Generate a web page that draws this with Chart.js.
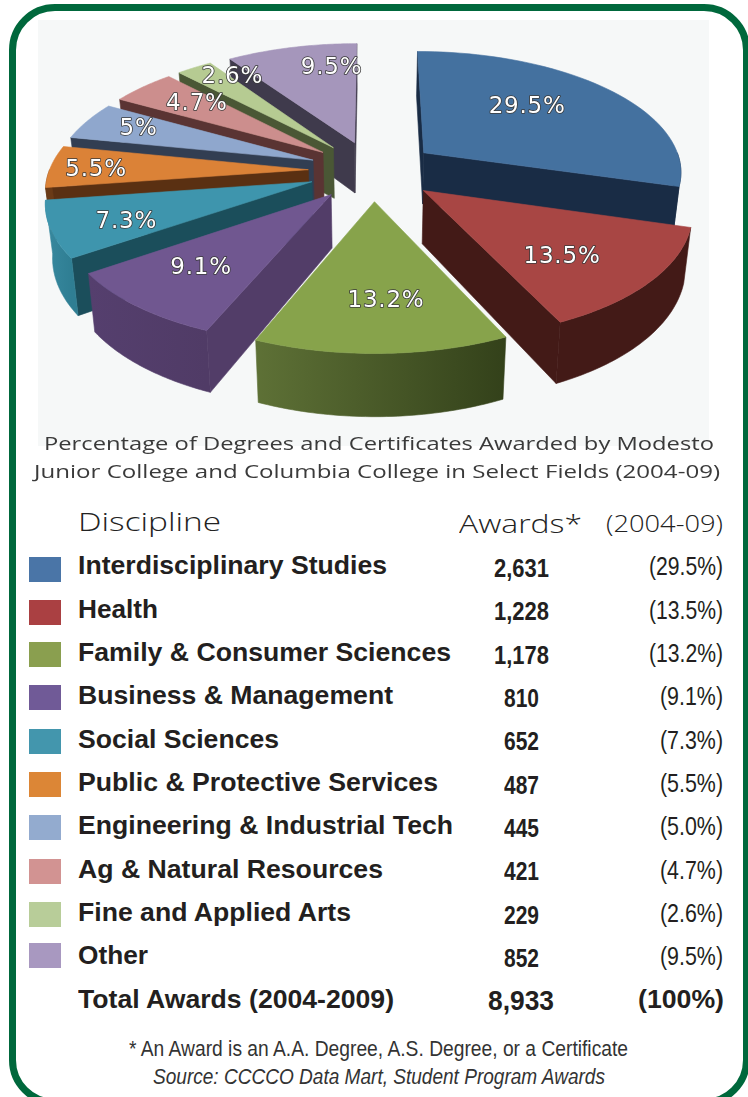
<!DOCTYPE html>
<html><head><meta charset="utf-8">
<script src="https://cdn.jsdelivr.net/npm/chart.js@4"></script>
<style>
html,body{margin:0;padding:0;background:#fff;width:748px;height:1097px;overflow:hidden}
#frame{position:absolute;left:9px;top:4px;width:741px;height:1102px;box-sizing:border-box;border:7px solid #00683c;border-radius:46px}
#panel{position:absolute;left:38px;top:20px;width:671px;height:426px;background:#f6f8f8}
canvas{position:absolute;left:0;top:0}
.t{position:absolute;white-space:pre;transform-origin:0 0;color:#231f20;font-family:"Liberation Sans",Arial,sans-serif}
.sw{position:absolute;width:32px;height:25px}
</style></head><body>
<div id="frame"></div><div id="panel"></div>
<canvas id="pie" width="748" height="450"></canvas>
<div id="table"></div>
<script>
// ---- data ----
const disciplines = ['Interdisciplinary Studies','Health','Family & Consumer Sciences','Business & Management','Social Sciences','Public & Protective Services','Engineering & Industrial Tech','Ag & Natural Resources','Fine and Applied Arts','Other'];
const awards = [2631,1228,1178,810,652,487,445,421,229,852];
const sharePct = [29.5,13.5,13.2,9.1,7.3,5.5,5.0,4.7,2.6,9.5];
const sliceLabels = ['29.5%','13.5%','13.2%','9.1%','7.3%','5.5%','5%','4.7%','2.6%','9.5%'];
const totalLabel = 'Total Awards (2004-2009)', totalAwards = '8,933', totalShare = '(100%)';
const titleLines = ['Percentage of Degrees and Certificates Awarded by Modesto','Junior College and Columbia College in Select Fields (2004-09)'];
const footnote = '* An Award is an A.A. Degree, A.S. Degree, or a Certificate';
const source = 'Source: CCCCO Data Mart, Student Program Awards';

// ---- styles ----
const topColors = ['#44719f','#a84644','#87a34b','#705790','#3e95ad','#db8237','#8fa7cd','#cc8e8d','#b6cb92','#a596bb'];
const cutColors = ['#192c45','#431a17','#4a5a26','#523d68','#1b4e5b','#5a3012','#323e52','#5a3433','#4a5735','#3f3a4c'];
const rimLeft  = ['#192c45','#431a17','#5e7136','#553f6e','#38899f','#6a3a16','#323e52','#5a3433','#4a5735','#3f3a4c'];
const rimRight = ['#192c45','#431a17','#33411a','#503b66','#2f7e93','#6a3a16','#323e52','#5a3433','#4a5735','#3f3a4c'];
const swatchColors = ['#4a75a7','#aa4042','#8a9f4f','#705a97','#4396ad','#dc8636','#93abcf','#d29392','#b8cd99','#a898c0'];
const labelRadius = [.608,.68,.688,.688,.735,.82,.77,.7,.82,.742];
const labelSweep  = [.44,.61,.46,.52,.36,.41,.54,.59,1.07,.755];

// ---- view of the 3D pie ----
const VIEW = {cx:373, cy:170.5, a:259, b:120.4, k:.142, h:52, taper:.978, explode:.25};
function project(u,v,z){
  const s = 1/(1-VIEW.k*v), f = z ? VIEW.taper : 1;
  return {x:VIEW.cx+VIEW.a*u*s*f, y:VIEW.cy+VIEW.b*v*s+z*VIEW.h*s};
}
function poly(ctx,pts,fill){
  ctx.beginPath(); pts.forEach((p,i)=> i?ctx.lineTo(p.x,p.y):ctx.moveTo(p.x,p.y));
  ctx.closePath(); ctx.fillStyle=fill; ctx.fill(); ctx.strokeStyle=fill; ctx.lineWidth=.6; ctx.stroke();
}
const pie3d = {
  id:'pie3d',
  beforeDatasetDraw(chart,args){
    const ctx = chart.ctx, arcs = chart.getDatasetMeta(args.index).data;
    const geo = arcs.map((el,i)=>{
      const p = el.getProps(['startAngle','endAngle'],true);
      const mid = (p.startAngle+p.endAngle)/2;
      const ou = VIEW.explode*Math.cos(mid), ov = VIEW.explode*Math.sin(mid);
      return {i,start:p.startAngle,end:p.endAngle,mid,
        at:(a,r,z)=>project(ou+r*Math.cos(a),ov+r*Math.sin(a),z)};
    });
    const order = geo.slice().sort((a,b)=>Math.sin(a.mid)-Math.sin(b.mid));
    for(const g of order){
      const {i,start,end,at} = g, n = 48;
      const apex = at(0,0,0), apexB = at(0,0,1);
      const cuts = [[start,end],[end,start]].map(([a,other])=>({
        a, P:at(a,1,0), Q:at(other,1,0)
      })).sort((c,d)=>c.P.y-d.P.y);
      for(const c of cuts){
        const dx=c.P.x-apex.x, dy=c.P.y-apex.y;
        const sideQ = dx*(c.Q.y-apex.y)-dy*(c.Q.x-apex.x), sideDown = dx;
        if(sideQ*sideDown<0) poly(ctx,[apex,c.P,at(c.a,1,1),apexB],cutColors[i]);
      }
      const r0=Math.max(start,0), r1=Math.min(end,Math.PI);
      if(r1>r0){
        const up=[],down=[];
        for(let j=0;j<=n;j++){const a=r0+(r1-r0)*j/n; up.push(at(a,1,0)); down.unshift(at(a,1,1));}
        const xs=up.map(p=>p.x);
        const gr=ctx.createLinearGradient(Math.min(...xs),0,Math.max(...xs),0);
        gr.addColorStop(0,rimLeft[i]); gr.addColorStop(1,rimRight[i]);
        poly(ctx,up.concat(down),gr);
      }
      const top=[apex];
      for(let j=0;j<=n;j++) top.push(at(start+(end-start)*j/n,1,0));
      poly(ctx,top,topColors[i]);
    }
    ctx.save();
    ctx.font='23px "DejaVu Sans"'; ctx.letterSpacing='0.8px'; ctx.textAlign='center'; ctx.textBaseline='middle'; ctx.lineJoin='round';
    geo.forEach(g=>{
      const p=g.at(g.start+(g.end-g.start)*labelSweep[g.i],labelRadius[g.i],0);
      ctx.strokeStyle='#3a3a3a'; ctx.lineWidth=1.6; ctx.strokeText(sliceLabels[g.i],p.x,p.y);
      ctx.fillStyle='#ffffff'; ctx.fillText(sliceLabels[g.i],p.x,p.y);
    });
    ctx.restore();
    return false;
  }
};
new Chart(document.getElementById('pie'),{
  type:'pie',
  data:{labels:disciplines,datasets:[{data:sharePct,backgroundColor:topColors,borderWidth:0}]},
  options:{responsive:false,animation:false,events:[],plugins:{legend:{display:false},tooltip:{enabled:false}}},
  plugins:[pie3d]
});

// ---- text table ----
const host=document.getElementById('table');
function text(str,x,base,width,font,color,align){
  const s=document.createElement('span'); s.className='t'; s.textContent=str; s.style.font=font;
  if(color) s.style.color=color;
  const m=document.createElement('i'); m.style.cssText='display:inline-block;width:0;height:0';
  s.appendChild(m); host.appendChild(s);
  const r=s.getBoundingClientRect(), asc=m.getBoundingClientRect().bottom-r.top;
  s.removeChild(m);
  const w=s.getBoundingClientRect().width;
  s.style.top=(base-asc)+'px'; s.style.left=(align==='right'?x-width:x)+'px';
  s.style.transform='scaleX('+(width/w)+')';
}
const NARROW='"Liberation Sans Narrow","Liberation Sans",sans-serif';
const LIGHT='"Open Sans","Liberation Sans",sans-serif';
const rowTop=[557,600,642,685,729,772,815,859,902,943];
const nameBase=[574,618,661,704,748,791,834,878,921,964];
const numBase=[577,620,664,707,750,794,837,880,924,967];
const nameWidth=[309,80,373,315,201,360,375,305,273,70];
text(titleLines[0],44,450,670,'400 19px '+LIGHT,'#3a3a3a');
text(titleLines[1],34,478,686,'400 19px '+LIGHT,'#3a3a3a');
text('Discipline',78,531,143,'300 25px '+LIGHT,'#222');
text('Awards*',459,533,123,'300 25px '+LIGHT,'#222');
text('(2004-09)',606,532,117,'300 24px '+LIGHT,'#222');
disciplines.forEach((d,i)=>{
  const b=document.createElement('div'); b.className='sw';
  b.style.left='29px'; b.style.top=rowTop[i]+'px'; b.style.background=swatchColors[i]; host.appendChild(b);
  text(d,78,nameBase[i],nameWidth[i],'bold 26px "Liberation Sans"');
  const a=awards[i].toLocaleString('en-US');
  text(a,a.length>3?494:504,numBase[i],a.length>3?55:35,'bold 26px '+NARROW);
  const p='('+sharePct[i].toFixed(1)+'%)';
  text(p,723,nameBase[i]+1,p.length>6?74:63,'26px '+NARROW,'#231f20','right');
});
text(totalLabel,78,1008,316,'bold 26px "Liberation Sans"');
text(totalAwards,488,1010,66,'bold 27px "Liberation Sans"');
text(totalShare,724,1008,86,'bold 26px "Liberation Sans"','#231f20','right');
text(footnote,129,1056,499,'22px '+NARROW,'#333');
text(source,153,1084,452,'italic 22px '+NARROW,'#333');
</script>
</body></html>
